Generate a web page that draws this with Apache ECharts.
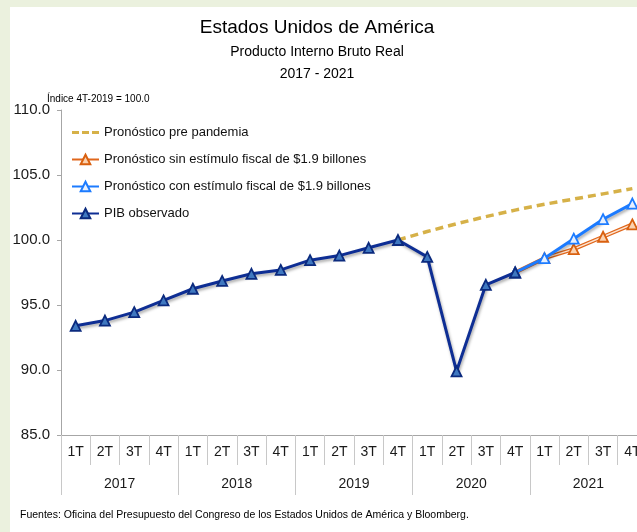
<!DOCTYPE html>
<html>
<head>
<meta charset="utf-8">
<script src="https://cdn.jsdelivr.net/npm/echarts@6/dist/echarts.min.js"></script>
<style>
html,body{margin:0;padding:0;background:#EBF1DE;overflow:hidden;width:637px;height:532px;}
#panel{position:absolute;left:10px;top:7px;width:640px;height:525px;background:#ffffff;}
#chart{position:absolute;left:0;top:0;width:700px;height:532px;}
</style>
</head>
<body>
<div id="panel"></div>
<div id="chart"></div>
<script>
// Data
const quarters = ['1T','2T','3T','4T','1T','2T','3T','4T','1T','2T','3T','4T','1T','2T','3T','4T','1T','2T','3T','4T'];
const years = ['2017','2018','2019','2020','2021'];
const yTicks = [85, 90, 95, 100, 105, 110];
const prePandemia = [null,null,null,null,null,null,null,null,null,null,null,100.0,100.65,101.25,101.8,102.3,102.75,103.15,103.55,103.95];
const sinEstimulo = [null,null,null,null,null,null,null,null,null,null,null,null,null,null,null,97.5,98.6,99.3,100.25,101.2];
const conEstimulo = [null,null,null,null,null,null,null,null,null,null,null,null,null,null,null,97.5,98.6,100.1,101.6,102.8];
const pibObservado = [93.4,93.8,94.45,95.35,96.25,96.85,97.4,97.7,98.45,98.8,99.4,100.0,98.7,89.9,96.55,97.5,null,null,null,null];

const FONT = '"Liberation Sans", Arial, sans-serif';
const chart = echarts.init(document.getElementById('chart'), null, {renderer:'canvas'});
const shadow = {shadowBlur:3, shadowColor:'rgba(0,0,0,0.35)', shadowOffsetX:1, shadowOffsetY:2};
const dashIcon = 'path://M0,0h7v3h-7z M10,0h7v3h-7z M20,0h7v3h-7z';

function txt(x, y, s, size, align){
  return {type:'text', x:x, y:y, silent:true,
    style:{text:s, fontFamily:FONT, fontSize:size, fill:'#000', align:align||'center', verticalAlign:'middle'}};
}

const option = {
  animation:false,
  textStyle:{fontFamily:FONT},
  graphic:[
    txt(317, 28, 'Estados Unidos de América', 19),
    txt(317, 52, 'Producto Interno Bruto Real', 14),
    txt(317, 74, '2017 - 2021', 14),
    txt(47, 99, 'Índice 4T-2019 = 100.0', 10, 'left'),
    txt(20, 515, 'Fuentes: Oficina del Presupuesto del Congreso de los Estados Unidos de América y Bloomberg.', 10.5, 'left')
  ],
  legend:{
    orient:'vertical', left:66, top:121, itemGap:14, itemWidth:27, itemHeight:12,
    textStyle:{fontFamily:FONT, fontSize:13, color:'#111'},
    data:[
      {name:'Pronóstico pre pandemia', icon:dashIcon, itemStyle:{color:'#D6B148'}},
      'Pronóstico sin estímulo fiscal de $1.9 billones',
      'Pronóstico con estímulo fiscal de $1.9 billones',
      'PIB observado'
    ]
  },
  grid:{left:61, top:110, width:586, bottom:97, containLabel:false},
  xAxis:[
    {type:'category', data:quarters, boundaryGap:true, position:'bottom',
     axisLine:{show:true, lineStyle:{color:'#A6A6A6', width:1}},
     axisTick:{show:true, interval:0, length:30, lineStyle:{color:'#C8C8C8'}},
     axisLabel:{interval:0, margin:10, fontFamily:FONT, fontSize:14, color:'#1a1a1a'}},
    {type:'category', data:years, boundaryGap:true, position:'bottom', offset:30,
     axisLine:{show:false},
     axisTick:{show:true, interval:0, length:30, lineStyle:{color:'#C8C8C8'}},
     axisLabel:{interval:0, margin:12, fontFamily:FONT, fontSize:14, color:'#1a1a1a'}}
  ],
  yAxis:{type:'value', min:yTicks[0], max:yTicks[yTicks.length-1], interval:5,
    axisLine:{show:true, lineStyle:{color:'#A6A6A6'}},
    axisTick:{show:true, length:4, lineStyle:{color:'#A6A6A6'}},
    splitLine:{show:false},
    axisLabel:{margin:11, fontFamily:FONT, fontSize:15, color:'#1a1a1a', formatter:v=>v.toFixed(1)}},
  series:[
    {name:'Pronóstico pre pandemia', type:'line', data:prePandemia, symbol:'none',
     lineStyle:{color:'#D6B148', width:3.5, type:[8,5]}, itemStyle:{color:'#D6B148'}, z:2},
    {name:'Pronóstico sin estímulo fiscal de $1.9 billones', type:'line', data:sinEstimulo, symbol:'triangle', symbolSize:10,
     lineStyle:{color:'#E0671C', width:4}, itemStyle:{color:'#FBD2B0', borderColor:'#D9600F', borderWidth:1.8}, z:3},
    {name:'sinInner', type:'line', data:sinEstimulo, symbol:'none', silent:true,
     lineStyle:{color:'#FCE4D2', width:1.4}, z:3},
    {name:'Pronóstico con estímulo fiscal de $1.9 billones', type:'line', data:conEstimulo, symbol:'triangle', symbolSize:10,
     lineStyle:Object.assign({color:'#1C7BFF', width:3}, shadow), itemStyle:{color:'#E6F0FF', borderColor:'#1C7BFF', borderWidth:1.8}, z:4},
    {name:'PIB observado', type:'line', data:pibObservado, symbol:'triangle', symbolSize:10,
     lineStyle:Object.assign({color:'#0E2E94', width:3}, shadow), itemStyle:{color:'#3F78C0', borderColor:'#0B2A7E', borderWidth:1.8}, z:5}
  ]
};
chart.setOption(option);
</script>
</body>
</html>
